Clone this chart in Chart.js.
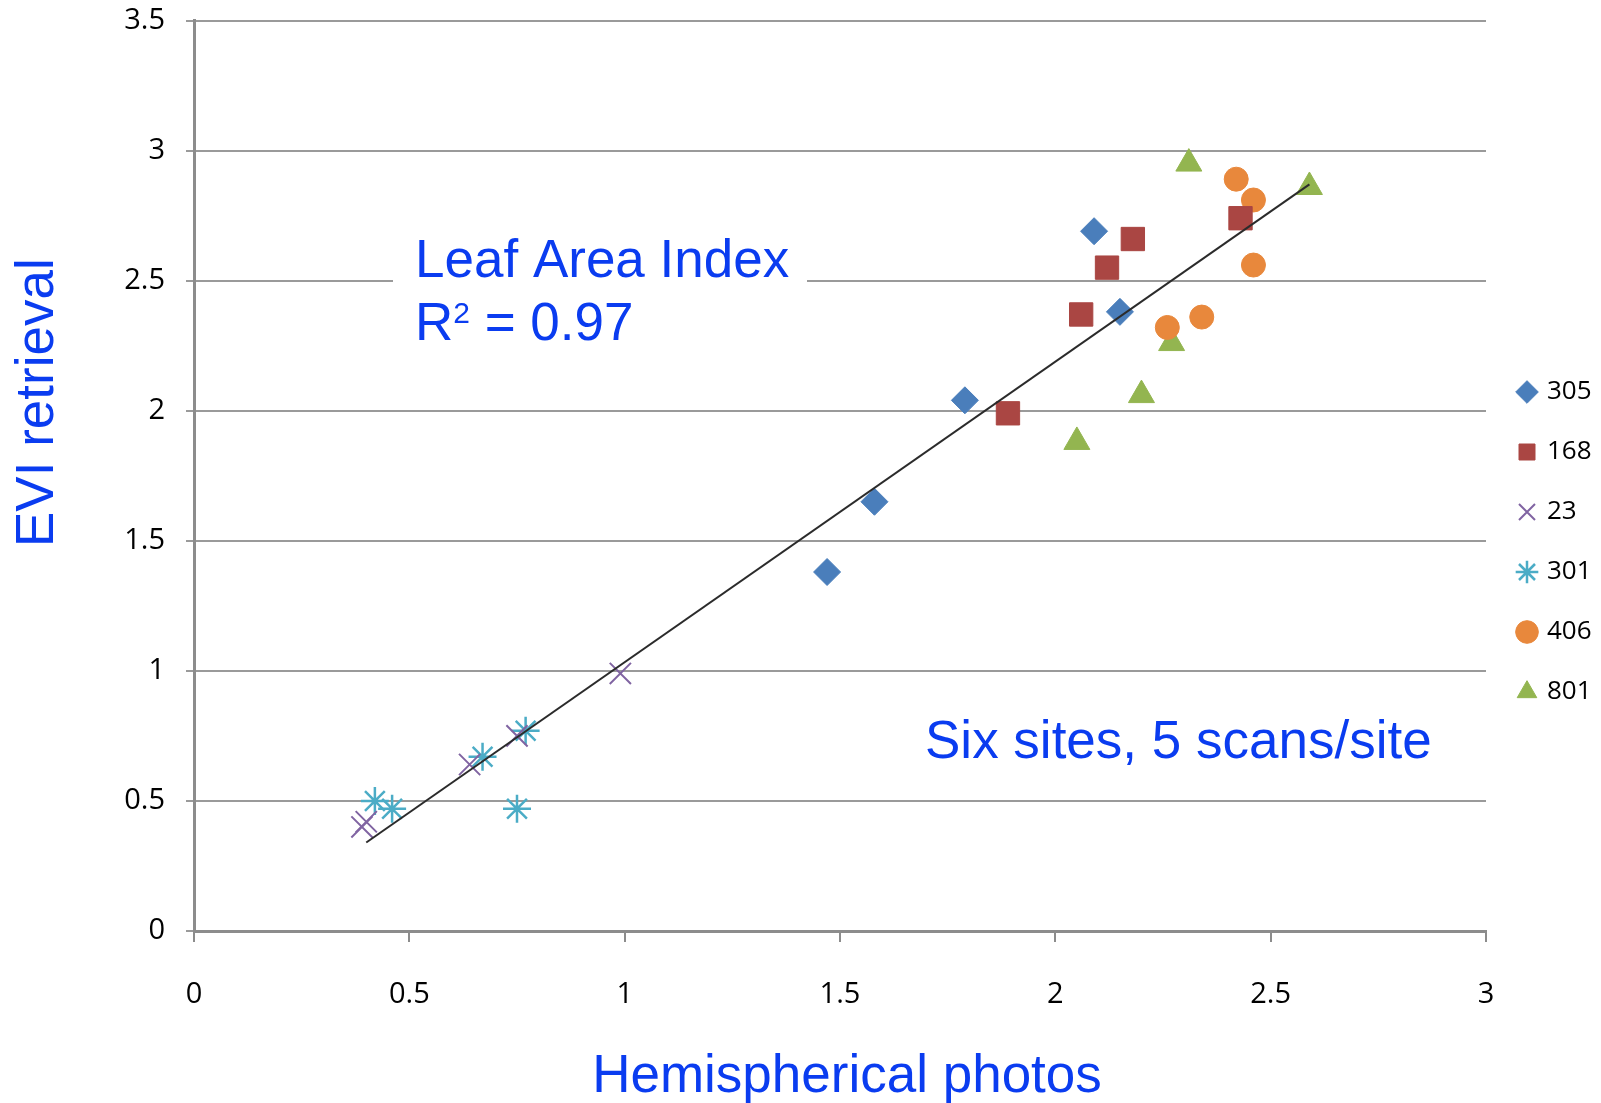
<!DOCTYPE html>
<html>
<head>
<meta charset="utf-8">
<script src="https://cdn.jsdelivr.net/npm/chart.js@4.4.0/dist/chart.umd.min.js"></script>
<style>
  html, body { margin: 0; padding: 0; background: #fff; }
  #lai-chart { display: block; }
</style>
</head>
<body>
<canvas id="lai-chart" width="1601" height="1103"></canvas>
<script>
// sites, in legend order
const sites = ["305", "168", "23", "301", "406", "801"];

// hemispherical photos (x) vs EVI retrieval (y), 5 scans per site
const x305 = [1.47, 1.58, 1.79, 2.09, 2.15];
const y305 = [1.38, 1.65, 2.04, 2.69, 2.38];
const x168 = [1.89, 2.06, 2.12, 2.18, 2.43];
const y168 = [1.99, 2.37, 2.55, 2.66, 2.74];
const x23 = [0.39, 0.40, 0.64, 0.75, 0.99];
const y23 = [0.40, 0.42, 0.64, 0.75, 0.99];
const x301 = [0.42, 0.46, 0.67, 0.77, 0.75];
const y301 = [0.50, 0.47, 0.67, 0.77, 0.47];
const x406 = [2.26, 2.34, 2.42, 2.46, 2.46];
const y406 = [2.32, 2.36, 2.89, 2.56, 2.81];
const x801 = [2.05, 2.20, 2.27, 2.31, 2.59];
const y801 = [1.88, 2.06, 2.26, 2.95, 2.86];

// fitted line, start and end
const trendX = [0.40, 2.59];
const trendY = [0.34, 2.87];

const xTickLabels = ["0", "0.5", "1", "1.5", "2", "2.5", "3"];
const yTickLabels = ["0", "0.5", "1", "1.5", "2", "2.5", "3", "3.5"];

const toPoints = (xs, ys) => xs.map((x, i) => ({ x: x, y: ys[i] }));

const blueText = "#0a3cf0";

// texts drawn over the plot, like the slide's text boxes
const annotations = {
  id: "annotations",
  beforeDatasetsDraw(chart) {
    const ctx = chart.ctx;
    ctx.save();
    ctx.fillStyle = "#fff";
    ctx.fillRect(393, 240, 414, 80);
    ctx.restore();
  },
  afterDraw(chart) {
    const ctx = chart.ctx;
    ctx.save();
    ctx.fillStyle = blueText;
    ctx.textBaseline = "alphabetic";
    ctx.textAlign = "left";
    ctx.font = "53px 'Liberation Sans', Arial, sans-serif";
    ctx.fillText("Leaf Area Index", 415, 277);
    ctx.fillText("R", 415, 340);
    let rx = 415 + ctx.measureText("R").width;
    ctx.font = "30px 'Liberation Sans', Arial, sans-serif";
    ctx.fillText("2", rx, 323);
    rx += ctx.measureText("2").width;
    ctx.font = "53px 'Liberation Sans', Arial, sans-serif";
    ctx.fillText(" = 0.97", rx, 340);
    ctx.fillText("Six sites, 5 scans/site", 925, 758);

    ctx.textAlign = "center";
    ctx.fillText("Hemispherical photos", 847, 1092);

    ctx.translate(53, 547);
    ctx.rotate(-Math.PI / 2);
    ctx.textAlign = "left";
    ctx.fillText("EVI retrieval", 0, 0);
    ctx.restore();
  }
};

const tickFont = { family: "'Open Sans', sans-serif", size: 29 };

const laiData = {
  type: "scatter",
  data: {
    datasets: [
      {
        type: "line",
        label: "trend",
        data: toPoints(trendX, trendY),
        borderColor: "#2b2b2b",
        borderWidth: 2,
        pointRadius: 0,
        fill: false,
        order: 0,
      },
      {
        label: sites[0],
        data: toPoints(x305, y305),
        pointStyle: "rectRot",
        pointRadius: 13.5,
        backgroundColor: "#4a7ebb",
        borderColor: "#4a7ebb",
        borderWidth: 1,
        order: 1,
      },
      {
        label: sites[1],
        data: toPoints(x168, y168),
        pointStyle: "rect",
        pointRadius: 16.5,
        backgroundColor: "#aa4643",
        borderColor: "#aa4643",
        borderWidth: 1,
        order: 1,
      },
      {
        label: sites[2],
        data: toPoints(x23, y23),
        pointStyle: "crossRot",
        pointRadius: 15,
        backgroundColor: "#8064a2",
        borderColor: "#8064a2",
        borderWidth: 2,
        order: 1,
      },
      {
        label: sites[3],
        data: toPoints(x301, y301),
        pointStyle: "star",
        pointRadius: 14,
        backgroundColor: "#4bacc6",
        borderColor: "#4bacc6",
        borderWidth: 2.5,
        order: 1,
      },
      {
        label: sites[4],
        data: toPoints(x406, y406),
        pointStyle: "circle",
        pointRadius: 12,
        backgroundColor: "#e8883c",
        borderColor: "#e8883c",
        borderWidth: 1,
        order: 1,
      },
      {
        label: sites[5],
        data: toPoints(x801, y801),
        pointStyle: "triangle",
        pointRadius: 15,
        backgroundColor: "#93b550",
        borderColor: "#93b550",
        borderWidth: 1,
        order: 1,
      },
    ],
  },
  options: {
    responsive: false,
    animation: false,
    layout: {
      padding: { left: 120, top: 0, right: 0, bottom: 91 },
    },
    plugins: {
      tooltip: { enabled: false },
      legend: {
        position: "right",
        maxWidth: 115,
        title: {
          display: true,
          text: "",
          font: { size: 10 },
          padding: { top: 60, bottom: 0 },
        },
        labels: {
          filter: (item) => item.text !== "trend",
          usePointStyle: true,
          boxWidth: 14,
          boxHeight: 16,
          padding: 34,
          color: "#000",
          font: { family: "'Open Sans', sans-serif", size: 26 },
        },
      },
    },
    scales: {
      x: {
        type: "linear",
        min: 0,
        max: 3,
        afterFit: (scale) => { scale.height = 81; },
        ticks: {
          stepSize: 0.5,
          padding: 35,
          color: "#000",
          font: tickFont,
          callback: (value, index) => xTickLabels[index],
        },
        grid: {
          drawOnChartArea: false,
          tickLength: 11,
          color: "#8c8c8c",
          lineWidth: 2,
        },
        border: { color: "#8c8c8c", width: 3 },
      },
      y: {
        type: "linear",
        min: 0,
        max: 3.5,
        afterFit: (scale) => {
          scale.width = 74;
          scale.paddingTop = 20.5;
        },
        ticks: {
          stepSize: 0.5,
          padding: 21,
          color: "#000",
          font: tickFont,
          callback: (value, index) => yTickLabels[index],
        },
        grid: {
          tickLength: 8,
          color: "#9a9a9a",
          lineWidth: 2,
        },
        border: { color: "#8c8c8c", width: 3 },
      },
    },
  },
  plugins: [annotations],
};

const laiGraph = document.getElementById("lai-chart");
const chart = new Chart(laiGraph, laiData);
</script>
</body>
</html>
